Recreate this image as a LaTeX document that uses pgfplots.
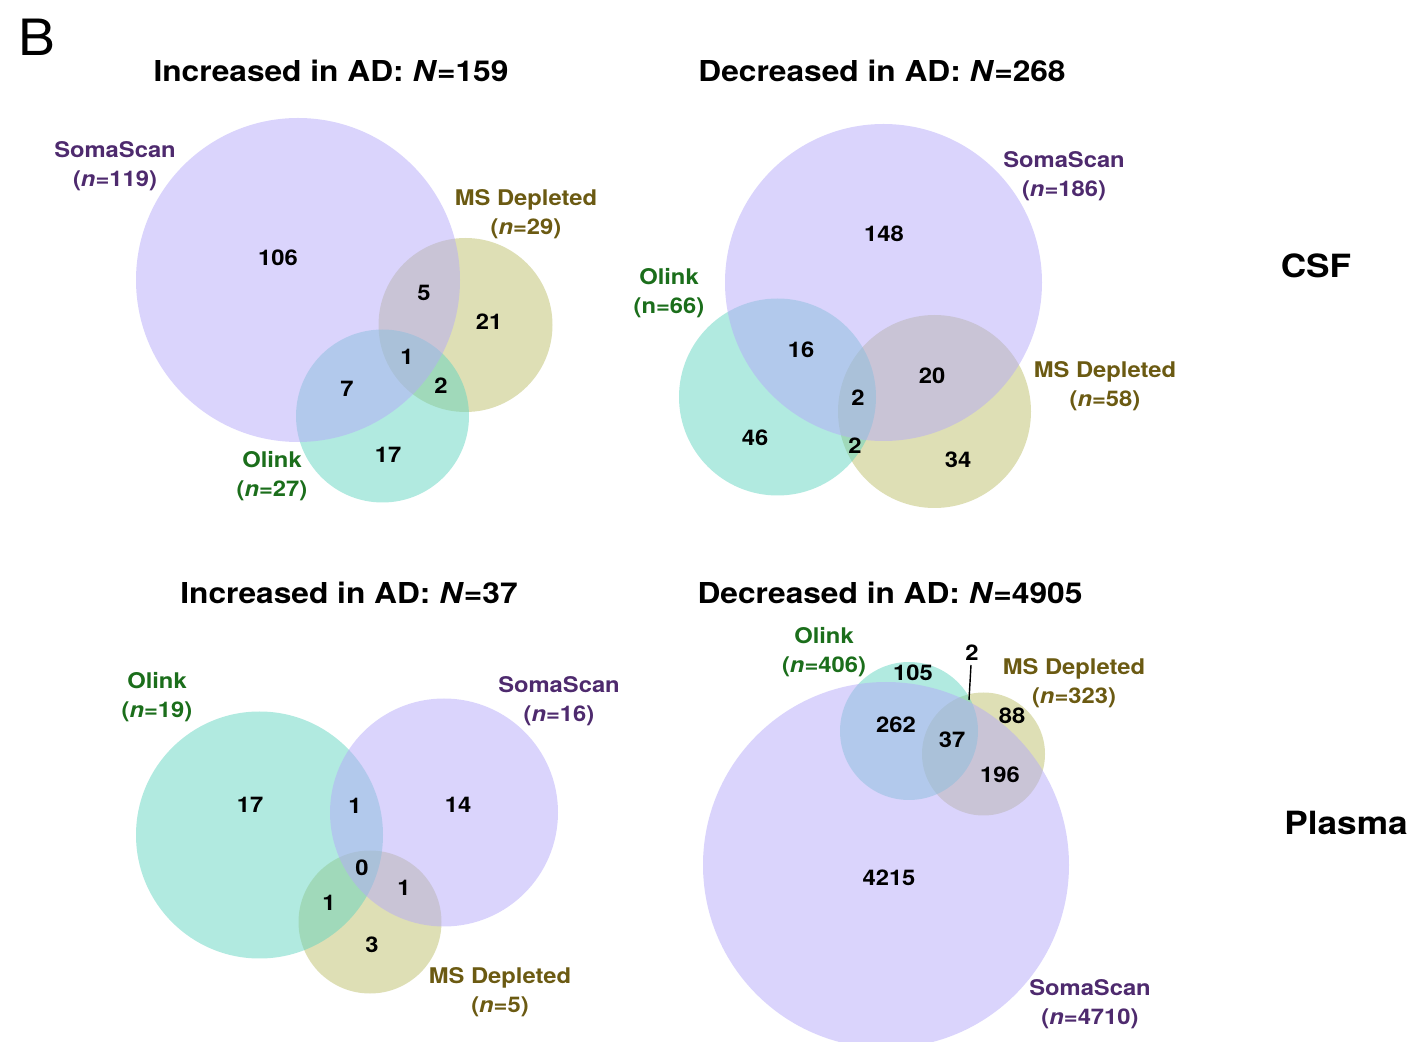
\documentclass[border=0pt]{standalone}
\usepackage{fontspec}
\setmainfont{TeX Gyre Heros}[FakeStretch=1.1]
\usepackage{pgfplots}
\usepackage{pgfplotstable}
\pgfplotsset{compat=1.18}
\definecolor{cPur}{RGB}{181,169,249}
\definecolor{cTeal}{RGB}{99,213,193}
\definecolor{cOli}{RGB}{189,191,107}
\definecolor{tPur}{RGB}{78,42,110}
\definecolor{tGrn}{RGB}{27,110,27}
\definecolor{tOli}{RGB}{107,90,18}

% circles: centre x, centre y (pixels, y downwards), radius (pixels)
\pgfplotstableread{
x y r
465.5 325 87
934.5 411.5 96.5
370 922 71.5
983.5 754 61.5
}\olive
\pgfplotstableread{
x y r
382.5 416 86.5
777.5 397 98.5
259.5 835 123.5
909 731 69
}\teal
\pgfplotstableread{
x y r
298 280 162
883.5 282.5 158.5
444 812.5 114
886 865 183
}\purple

\pgfplotsset{
  venn/.style={
    scatter, only marks, mark=*,
    point meta=\thisrow{r},
    scatter/use mapped color={draw opacity=0, draw=none, fill=#1, fill opacity=0.5},
    mark options={draw opacity=0},
    visualization depends on={\thisrow{r} \as \rad},
    scatter/@pre marker code/.append style={/tikz/mark size={0.5*\rad}, /tikz/draw opacity=0},
  }
}
\newcommand{\lf}{\fontsize{10.8}{12}\selectfont\bfseries}
\newcommand{\nf}{\fontsize{10.8}{12}\selectfont\bfseries}
\newcommand{\tf}{\fontsize{14.4}{16}\selectfont\bfseries}
\newcommand{\rf}{\fontsize{16}{18}\selectfont\bfseries}

\begin{document}
\begin{tikzpicture}
\begin{axis}[
  at={(0,0)}, anchor=south west,
  scale only axis, width=707.5pt, height=521pt,
  xmin=0, xmax=1415, ymin=0, ymax=1042,
  y dir=reverse, hide axis, clip marker paths=true,
]
\path (axis cs:0,0) rectangle (axis cs:1415,1042);
\addplot[venn=cOli] table {\olive};
\addplot[venn=cTeal] table {\teal};
\addplot[venn=cPur] table {\purple};
\addplot[black, line width=0.7pt, no marks] coordinates {(971,665) (969,700)};

% panel letter and row labels
\node[anchor=base, font=\fontsize{25}{30}\selectfont] at (axis cs:37,56) {B};
\node[anchor=base, font=\rf] at (axis cs:1316,278) {CSF};
\node[anchor=base, font=\rf] at (axis cs:1346,835) {Plasma};

% titles
\node[anchor=base, font=\tf] at (axis cs:331,82) {Increased in AD: \textit{N}=159};
\node[anchor=base, font=\tf] at (axis cs:882,82) {Decreased in AD: \textit{N}=268};
\node[anchor=base, font=\tf] at (axis cs:349,604) {Increased in AD: \textit{N}=37};
\node[anchor=base, font=\tf] at (axis cs:890,604) {Decreased in AD: \textit{N}=4905};

% panel 1 labels
\node[anchor=base, font=\lf, text=tPur] at (axis cs:115,158) {SomaScan};
\node[anchor=base, font=\lf, text=tPur] at (axis cs:115,187) {(\textit{n}=119)};
\node[anchor=base, font=\lf, text=tOli] at (axis cs:526,206) {MS Depleted};
\node[anchor=base, font=\lf, text=tOli] at (axis cs:526,235) {(\textit{n}=29)};
\node[anchor=base, font=\lf, text=tGrn] at (axis cs:272,468) {Olink};
\node[anchor=base, font=\lf, text=tGrn] at (axis cs:272,497) {(\textit{n}=27)};
% panel 1 numbers
\node[anchor=base, font=\nf] at (axis cs:278,265.5) {106};
\node[anchor=base, font=\nf] at (axis cs:424,300.5) {5};
\node[anchor=base, font=\nf] at (axis cs:489,329.5) {21};
\node[anchor=base, font=\nf] at (axis cs:407,364.5) {1};
\node[anchor=base, font=\nf] at (axis cs:347,396.5) {7};
\node[anchor=base, font=\nf] at (axis cs:441,393.5) {2};
\node[anchor=base, font=\nf] at (axis cs:388,462.5) {17};

% panel 2 labels
\node[anchor=base, font=\lf, text=tPur] at (axis cs:1064,168) {SomaScan};
\node[anchor=base, font=\lf, text=tPur] at (axis cs:1064,197) {(\textit{n}=186)};
\node[anchor=base, font=\lf, text=tGrn] at (axis cs:669,285) {Olink};
\node[anchor=base, font=\lf, text=tGrn] at (axis cs:669,314) {(n=66)};
\node[anchor=base, font=\lf, text=tOli] at (axis cs:1105,378) {MS Depleted};
\node[anchor=base, font=\lf, text=tOli] at (axis cs:1105,407) {(\textit{n}=58)};
% panel 2 numbers
\node[anchor=base, font=\nf] at (axis cs:884,241.5) {148};
\node[anchor=base, font=\nf] at (axis cs:801,357.5) {16};
\node[anchor=base, font=\nf] at (axis cs:932,383.5) {20};
\node[anchor=base, font=\nf] at (axis cs:858,405.5) {2};
\node[anchor=base, font=\nf] at (axis cs:755,445.5) {46};
\node[anchor=base, font=\nf] at (axis cs:855,453.5) {2};
\node[anchor=base, font=\nf] at (axis cs:958,467.5) {34};

% panel 3 labels
\node[anchor=base, font=\lf, text=tGrn] at (axis cs:157,689) {Olink};
\node[anchor=base, font=\lf, text=tGrn] at (axis cs:157,718) {(\textit{n}=19)};
\node[anchor=base, font=\lf, text=tPur] at (axis cs:559,693) {SomaScan};
\node[anchor=base, font=\lf, text=tPur] at (axis cs:559,722) {(\textit{n}=16)};
\node[anchor=base, font=\lf, text=tOli] at (axis cs:500,983) {MS Depleted};
\node[anchor=base, font=\lf, text=tOli] at (axis cs:500,1012) {(\textit{n}=5)};
% panel 3 numbers
\node[anchor=base, font=\nf] at (axis cs:250,812.5) {17};
\node[anchor=base, font=\nf] at (axis cs:355,813.5) {1};
\node[anchor=base, font=\nf] at (axis cs:458,812.5) {14};
\node[anchor=base, font=\nf] at (axis cs:362,875.5) {0};
\node[anchor=base, font=\nf] at (axis cs:404,895.5) {1};
\node[anchor=base, font=\nf] at (axis cs:329,910.5) {1};
\node[anchor=base, font=\nf] at (axis cs:372,952.5) {3};

% panel 4 labels
\node[anchor=base, font=\lf, text=tGrn] at (axis cs:824,644) {Olink};
\node[anchor=base, font=\lf, text=tGrn] at (axis cs:824,673) {(\textit{n}=406)};
\node[anchor=base, font=\lf, text=tOli] at (axis cs:1074,675) {MS Depleted};
\node[anchor=base, font=\lf, text=tOli] at (axis cs:1074,704) {(\textit{n}=323)};
\node[anchor=base, font=\lf, text=tPur] at (axis cs:1090,995) {SomaScan};
\node[anchor=base, font=\lf, text=tPur] at (axis cs:1090,1024) {(\textit{n}=4710)};
% panel 4 numbers
\node[anchor=base, font=\nf] at (axis cs:913,680.5) {105};
\node[anchor=base, font=\nf] at (axis cs:972,660.5) {2};
\node[anchor=base, font=\nf] at (axis cs:896,732.5) {262};
\node[anchor=base, font=\nf] at (axis cs:952,747.5) {37};
\node[anchor=base, font=\nf] at (axis cs:1012,723.5) {88};
\node[anchor=base, font=\nf] at (axis cs:1000,782.5) {196};
\node[anchor=base, font=\nf] at (axis cs:889,885.5) {4215};
\end{axis}
\end{tikzpicture}
\end{document}
